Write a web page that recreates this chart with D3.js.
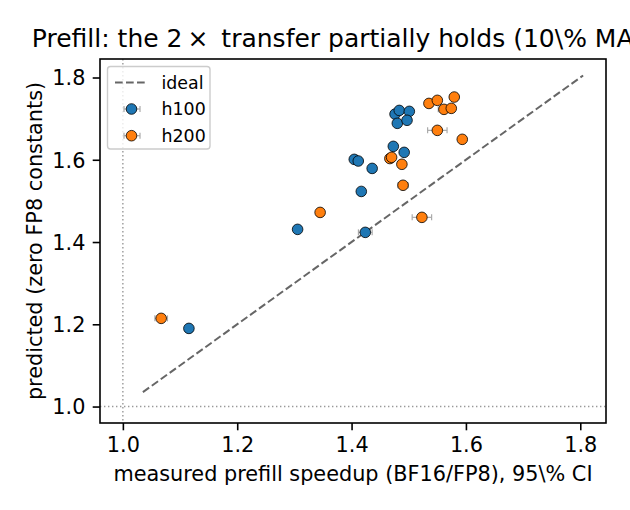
<!DOCTYPE html>
<html>
<head>
<meta charset="utf-8">
<script src="https://cdn.jsdelivr.net/npm/d3@7"></script>
<style>
  body { margin: 0; background: #fff; }
  svg text { font-family: "DejaVu Sans", sans-serif; fill: #000; }
</style>
</head>
<body>
<div id="chart"></div>
<script>
// measured speedup (x), predicted (y), 95% CI half width on x
const h100X = [1.1155, 1.3056, 1.424, 1.417, 1.436, 1.4047, 1.4117, 1.473, 1.492, 1.476, 1.4834, 1.501, 1.480, 1.497];
const h100Y = [1.190, 1.4308, 1.4235, 1.523, 1.579, 1.601, 1.597, 1.6326, 1.618, 1.711, 1.720, 1.7177, 1.6886, 1.696];
const h100Err = [0.004, 0.003, 0.012, 0.004, 0.003, 0.004, 0.004, 0.004, 0.006, 0.004, 0.004, 0.004, 0.006, 0.004];

const h200X = [1.067, 1.345, 1.523, 1.490, 1.488, 1.467, 1.470, 1.550, 1.5936, 1.5353, 1.550, 1.5616, 1.5744, 1.5796];
const h200Y = [1.2144, 1.472, 1.460, 1.538, 1.589, 1.603, 1.606, 1.6715, 1.6497, 1.737, 1.7445, 1.7226, 1.725, 1.7525];
const h200Err = [0.011, 0.004, 0.017, 0.009, 0.004, 0.004, 0.004, 0.017, 0.005, 0.004, 0.004, 0.010, 0.005, 0.006];

const idealRange = [1.035, 1.805];
const ticks = [1.0, 1.2, 1.4, 1.6, 1.8];

const series = [
    {name: "h100", color: "#1f77b4", x: h100X, y: h100Y, err: h100Err},
    {name: "h200", color: "#ff7f0e", x: h200X, y: h200Y, err: h200Err}
];

const width = 630, height = 510;
const mLeft = 100, mRight = 606, mTop = 59, mBottom = 423;

const svg = d3.select("#chart").append("svg")
    .attr("width", width)
    .attr("height", height);

const x = d3.scaleLinear().domain([0.96, 1.845]).range([mLeft, mRight]);
const y = d3.scaleLinear().domain([0.96, 1.845]).range([mBottom, mTop]);

// reference lines at 1.0
svg.append("line")
    .attr("x1", x(1)).attr("x2", x(1))
    .attr("y1", mTop).attr("y2", mBottom)
    .style("stroke", "#999").style("stroke-width", 1.4)
    .style("stroke-dasharray", "1.4,2.6");
svg.append("line")
    .attr("x1", mLeft).attr("x2", mRight)
    .attr("y1", y(1)).attr("y2", y(1))
    .style("stroke", "#999").style("stroke-width", 1.4)
    .style("stroke-dasharray", "1.4,2.6");

// ideal line
svg.append("line")
    .attr("x1", x(idealRange[0])).attr("y1", y(idealRange[0]))
    .attr("x2", x(idealRange[1])).attr("y2", y(idealRange[1]))
    .style("stroke", "#666").style("stroke-width", 2)
    .style("stroke-dasharray", "7.7,3.3");

series.forEach(s => {
    const g = svg.append("g");
    const pts = s.x.map((v, i) => ({x: v, y: s.y[i], e: s.err[i]}));
    const eb = g.append("g").selectAll("g").data(pts).join("g")
        .style("stroke", "#aaa").style("stroke-width", 1.2);
    eb.append("line")
        .attr("x1", d => x(d.x - d.e)).attr("x2", d => x(d.x + d.e))
        .attr("y1", d => y(d.y)).attr("y2", d => y(d.y));
    eb.append("line")
        .attr("x1", d => x(d.x - d.e)).attr("x2", d => x(d.x - d.e))
        .attr("y1", d => y(d.y) - 3).attr("y2", d => y(d.y) + 3);
    eb.append("line")
        .attr("x1", d => x(d.x + d.e)).attr("x2", d => x(d.x + d.e))
        .attr("y1", d => y(d.y) - 3).attr("y2", d => y(d.y) + 3);
    g.append("g").selectAll("circle").data(pts).join("circle")
        .attr("cx", d => x(d.x))
        .attr("cy", d => y(d.y))
        .attr("r", 5.3)
        .style("fill", s.color)
        .style("stroke", "#000")
        .style("stroke-width", 0.8);
});

// axes
const xAxis = svg.append("g")
    .attr("transform", `translate(0,${mBottom})`)
    .call(d3.axisBottom(x).tickValues(ticks).tickFormat(d3.format(".1f")).tickSize(7.3).tickSizeOuter(0));
const yAxis = svg.append("g")
    .attr("transform", `translate(${mLeft},0)`)
    .call(d3.axisLeft(y).tickValues(ticks).tickFormat(d3.format(".1f")).tickSize(7.3).tickSizeOuter(0));
[xAxis, yAxis].forEach(a => {
    a.select(".domain").remove();
    a.selectAll(".tick line").style("stroke", "#000").style("stroke-width", 1.6);
    a.selectAll(".tick text").style("font-size", "20.8px").style("font-family", "DejaVu Sans");
});
xAxis.selectAll(".tick text").attr("y", 14.6).attr("dy", "0.71em");
yAxis.selectAll(".tick text").attr("x", -14.6).attr("dy", "0.35em");

svg.append("rect")
    .attr("x", mLeft).attr("y", mTop)
    .attr("width", mRight - mLeft).attr("height", mBottom - mTop)
    .style("fill", "none").style("stroke", "#000").style("stroke-width", 1.6);

// titles
svg.append("text")
    .attr("x", (mLeft + mRight) / 2).attr("y", 47)
    .attr("text-anchor", "middle")
    .style("font-size", "25px")
    .text("Prefill: the 2\u2009\u00d7\u2009 transfer partially holds (10\\% MAPE)");
svg.append("text")
    .attr("x", (mLeft + mRight) / 2).attr("y", 481)
    .attr("text-anchor", "middle")
    .style("font-size", "20.8px")
    .text("measured prefill speedup (BF16/FP8), 95\\% CI");
svg.append("text")
    .attr("transform", `translate(42,${(mTop + mBottom) / 2}) rotate(-90)`)
    .attr("text-anchor", "middle")
    .style("font-size", "20.8px")
    .text("predicted (zero FP8 constants)");

// legend
const lg = svg.append("g");
lg.append("rect")
    .attr("x", 107.5).attr("y", 66.5)
    .attr("width", 102.5).attr("height", 82.5)
    .attr("rx", 3)
    .style("fill", "#fff").style("fill-opacity", 0.8)
    .style("stroke", "#ccc").style("stroke-width", 1.4);
lg.append("line")
    .attr("x1", 115).attr("x2", 145).attr("y1", 82.5).attr("y2", 82.5)
    .style("stroke", "#666").style("stroke-width", 2)
    .style("stroke-dasharray", "7.7,3.3");
lg.append("text").attr("x", 161.5).attr("y", 88.5).style("font-size", "17.4px").text("ideal");
series.forEach((s, i) => {
    const cy = 109 + i * 26.7;
    const le = lg.append("g").style("stroke", "#aaa").style("stroke-width", 1.2);
    le.append("line").attr("x1", 124).attr("x2", 140).attr("y1", cy).attr("y2", cy);
    le.append("line").attr("x1", 124).attr("x2", 124).attr("y1", cy - 3).attr("y2", cy + 3);
    le.append("line").attr("x1", 140).attr("x2", 140).attr("y1", cy - 3).attr("y2", cy + 3);
    lg.append("circle").attr("cx", 131.5).attr("cy", cy).attr("r", 5.3)
        .style("fill", s.color).style("stroke", "#000").style("stroke-width", 0.8);
    lg.append("text").attr("x", 161.5).attr("y", cy + 6.3).style("font-size", "17.4px").text(s.name);
});
</script>
</body>
</html>
